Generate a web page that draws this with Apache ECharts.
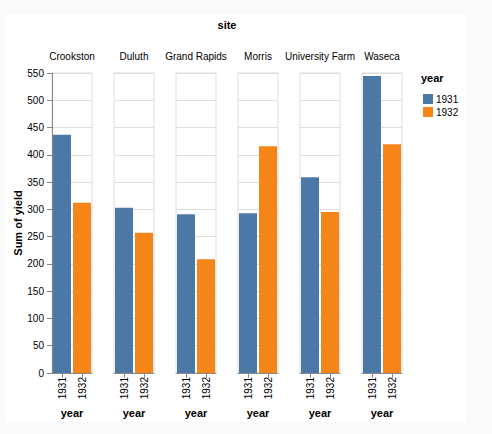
<!DOCTYPE html>
<html>
<head>
<meta charset="utf-8">
<script src="https://cdn.jsdelivr.net/npm/echarts@6/dist/echarts.min.js"></script>
<style>
  html, body { margin: 0; padding: 0; background: #fafafa; }
  #chart { width: 492px; height: 434px; }
</style>
</head>
<body>
<div id="chart"></div>
<script>
const sites = ['Crookston', 'Duluth', 'Grand Rapids', 'Morris', 'University Farm', 'Waseca'];
const years = ['1931', '1932'];
const yield1931 = [436.6, 302.9, 291.0, 292.8, 358.7, 544.6];
const yield1932 = [311.9, 256.9, 208.4, 415.9, 295.0, 419.4];
const yTicks = [0, 50, 100, 150, 200, 250, 300, 350, 400, 450, 500, 550];
const colors = ['#4c78a8', '#f58518'];

const FONT = 'Liberation Sans, Arial, Helvetica, sans-serif';
const panelLeft = 52, panelW = 40, panelStep = 62, panelTop = 73, panelH = 300;

const grids = [], xAxes = [], yAxes = [], series = [], graphics = [];

graphics.push({ type: 'rect', z: -10, shape: { x: 5, y: 15, width: 461, height: 407 }, style: { fill: '#ffffff' } });
graphics.push({ type: 'text', x: (panelLeft + panelLeft + panelStep * 5 + panelW) / 2, y: 25,
  style: { text: 'site', font: 'bold 11px ' + FONT, fill: '#000', textAlign: 'center', textVerticalAlign: 'middle' } });
graphics.push({ type: 'text', x: 18, y: 223, rotation: Math.PI / 2,
  style: { text: 'Sum of yield', font: 'bold 11px ' + FONT, fill: '#000', textAlign: 'center', textVerticalAlign: 'middle' } });

sites.forEach((site, i) => {
  const left = panelLeft + panelStep * i;
  grids.push({ left: left, top: panelTop, width: panelW, height: panelH, show: true, borderColor: '#dddddd', borderWidth: 1, backgroundColor: 'transparent' });
  xAxes.push({
    type: 'category', gridIndex: i, data: years,
    axisLine: { show: true, lineStyle: { color: '#888888', width: 1 } },
    axisTick: { show: true, alignWithLabel: true, length: 5, lineStyle: { color: '#888888' } },
    axisLabel: { rotate: 90, fontSize: 10, color: '#000', fontFamily: FONT, margin: 4 },
    name: 'year', nameLocation: 'middle', nameGap: 34,
    nameTextStyle: { fontWeight: 'bold', fontSize: 11, color: '#000', fontFamily: FONT }
  });
  yAxes.push({
    type: 'value', gridIndex: i, min: 0, max: yTicks[yTicks.length - 1], interval: 50,
    splitLine: { show: true, lineStyle: { color: '#dddddd', width: 1 } },
    axisLine: { show: i === 0, lineStyle: { color: '#888888' } },
    axisTick: { show: i === 0, length: 5, lineStyle: { color: '#888888' } },
    axisLabel: { show: i === 0, fontSize: 10, color: '#000', fontFamily: FONT, margin: 8 }
  });
  series.push({
    name: years[0], type: 'bar', xAxisIndex: i, yAxisIndex: i, stack: 's' + i, barWidth: 18,
    itemStyle: { color: colors[0] }, data: [yield1931[i], '-']
  });
  series.push({
    name: years[1], type: 'bar', xAxisIndex: i, yAxisIndex: i, stack: 's' + i, barWidth: 18,
    itemStyle: { color: colors[1] }, data: ['-', yield1932[i]]
  });
  graphics.push({ type: 'text', x: left + panelW / 2, y: 56,
    style: { text: site, font: '10px ' + FONT, fill: '#000', textAlign: 'center', textVerticalAlign: 'middle' } });
});

graphics.push({ type: 'text', x: 421, y: 78,
  style: { text: 'year', font: 'bold 11px ' + FONT, fill: '#000', textAlign: 'left', textVerticalAlign: 'middle' } });

const chart = echarts.init(document.getElementById('chart'), null, { renderer: 'svg' });
chart.setOption({
  animation: false,
  backgroundColor: 'transparent',
  grid: grids,
  xAxis: xAxes,
  yAxis: yAxes,
  legend: {
    data: years, orient: 'vertical', left: 418, top: 89,
    itemWidth: 10, itemHeight: 10, itemGap: 3, icon: 'rect',
    textStyle: { fontSize: 10, color: '#000', fontFamily: FONT, padding: [0, 0, 0, -2] },
    selectedMode: false
  },
  graphic: graphics,
  series: series
});
</script>
</body>
</html>
